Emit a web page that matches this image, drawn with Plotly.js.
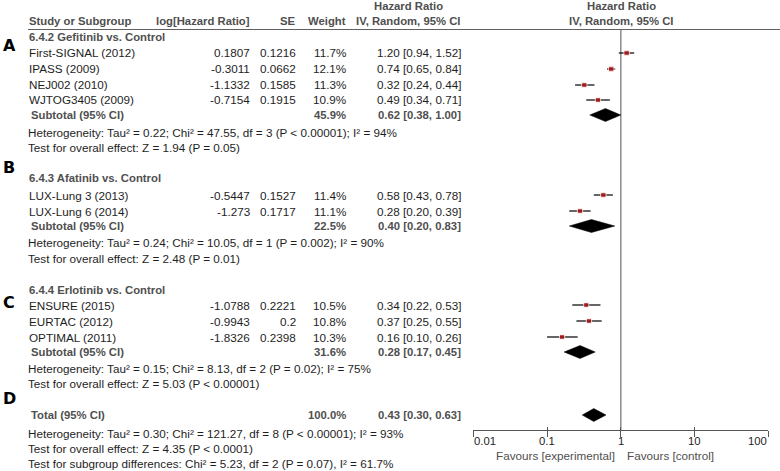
<!DOCTYPE html>
<html>
<head>
<meta charset="utf-8">
<script src="https://cdn.plot.ly/plotly-3.0.1.min.js"></script>
<style>
  body { margin: 0; background: #fff; }
  #forest { width: 780px; height: 471px; }
</style>
</head>
<body>
<div id="forest"></div>
<script>
//Study level data
const studies = ["First-SIGNAL (2012)", "IPASS (2009)", "NEJ002 (2010)", "WJTOG3405 (2009)",
                 "LUX-Lung 3 (2013)", "LUX-Lung 6 (2014)",
                 "ENSURE (2015)", "EURTAC (2012)", "OPTIMAL (2011)"];
const log_hr = [0.1807, -0.3011, -1.1332, -0.7154, -0.5447, -1.273, -1.0788, -0.9943, -1.8326];
const se_arr = [0.1216, 0.0662, 0.1585, 0.1915, 0.1527, 0.1717, 0.2221, 0.2, 0.2398];
const weight_arr = [11.7, 12.1, 11.3, 10.9, 11.4, 11.1, 10.5, 10.8, 10.3];
const hr_arr = [1.20, 0.74, 0.32, 0.49, 0.58, 0.28, 0.34, 0.37, 0.16];
const lo_arr = [0.94, 0.65, 0.24, 0.34, 0.43, 0.20, 0.22, 0.25, 0.10];
const hi_arr = [1.52, 0.84, 0.44, 0.71, 0.78, 0.39, 0.53, 0.55, 0.26];

//Subgroup data
const groups = ["6.4.2 Gefitinib vs. Control", "6.4.3 Afatinib vs. Control", "6.4.4 Erlotinib vs. Control"];
const group_letters = ["A", "B", "C"];
const sub_weight = [45.9, 22.5, 31.6];
const sub_hr = [0.62, 0.40, 0.28];
const sub_lo = [0.38, 0.20, 0.17];
const sub_hi = [1.00, 0.83, 0.45];
const sub_het = ["Heterogeneity: Tau² = 0.22; Chi² = 47.55, df = 3 (P &lt; 0.00001); I² = 94%",
                 "Heterogeneity: Tau² = 0.24; Chi² = 10.05, df = 1 (P = 0.002); I² = 90%",
                 "Heterogeneity: Tau² = 0.15; Chi² = 8.13, df = 2 (P = 0.02); I² = 75%"];
const sub_test = ["Test for overall effect: Z = 1.94 (P = 0.05)",
                  "Test for overall effect: Z = 2.48 (P = 0.01)",
                  "Test for overall effect: Z = 5.03 (P &lt; 0.00001)"];

//Overall data
const total_weight = [100.0];
const total_hr = [0.43];
const total_lo = [0.30];
const total_hi = [0.63];
const total_notes = ["Heterogeneity: Tau² = 0.30; Chi² = 121.27, df = 8 (P &lt; 0.00001); I² = 93%",
                     "Test for overall effect: Z = 4.35 (P &lt; 0.0001)",
                     "Test for subgroup differences: Chi² = 5.23, df = 2 (P = 0.07), I² = 61.7%"];
const tick_vals = [0.01, 0.1, 1, 10, 100];
const tick_text = ["0.01", "0.1", "1", "10", "100"];

/***** Layout (pixel rows) *******/
const W = 780, H = 471;
const study_y = [53, 69, 85, 100, 195, 211, 305, 321, 337];
const head_y = [37, 178, 290];
const sub_y = [115, 226, 352];
const het_y = [133, 242, 368];
const test_y = [148, 258, 383];
const letter_y = [46, 168, 302];
const total_y = 415;
const total_note_y = [433, 448, 463];
const axis_y = 430;

const GREY = "#4f4f4f";
const INK = "#1e1e1e";
const FONT = "Liberation Sans, Arial, sans-serif";
const SZ = 11.7;   //regular text
const SZB = 11.3;  //bold text

var annotations = [];
function txt(text, x, y, anchor, color, size, family){
    annotations.push({
        xref: "paper", yref: "paper",
        x: x / W, y: 1 - y / H,
        text: text, showarrow: false,
        xanchor: anchor || "left", yanchor: "middle",
        borderpad: 0,
        font: {family: family || FONT, size: size || SZ, color: color || INK}
    });
}
function bold(text, x, y, anchor){
    txt("<b>" + text + "</b>", x, y, anchor, GREY, SZB);
}

//Column headers
bold("Study or Subgroup", 28, 21, "left");
bold("log[Hazard Ratio]", 251, 21, "right");
bold("SE", 297, 21, "right");
bold("Weight", 347, 21, "right");
bold("Hazard Ratio", 408, 6, "center");
bold("IV, Random, 95% CI", 408, 21, "center");
bold("Hazard Ratio", 621, 6, "center");
bold("IV, Random, 95% CI", 621, 21, "center");

function ci_text(h, l, u){
    return h.toFixed(2) + " [" + l.toFixed(2) + ", " + u.toFixed(2) + "]";
}

//Study rows
for(var i = 0; i < studies.length; i++){
    let y = study_y[i];
    txt(studies[i], 28, y);
    txt(String(log_hr[i]), 251, y, "right");
    txt(String(se_arr[i]), 297, y, "right");
    txt(weight_arr[i].toFixed(1) + "%", 347, y, "right");
    txt(ci_text(hr_arr[i], lo_arr[i], hi_arr[i]), 462, y, "right");
}

//Subgroup rows
for(var g = 0; g < groups.length; g++){
    txt("<b>" + group_letters[g] + "</b>", 2, letter_y[g], "left", "#000", 16, "DejaVu Sans, Verdana, sans-serif");
    bold(groups[g], 28, head_y[g], "left");
    bold("Subtotal (95% CI)", 30, sub_y[g], "left");
    bold(sub_weight[g].toFixed(1) + "%", 347, sub_y[g], "right");
    bold(ci_text(sub_hr[g], sub_lo[g], sub_hi[g]), 462, sub_y[g], "right");
    txt(sub_het[g], 27, het_y[g]);
    txt(sub_test[g], 27, test_y[g]);
}

//Total rows
txt("<b>D</b>", 2, 398, "left", "#000", 16, "DejaVu Sans, Verdana, sans-serif");
bold("Total (95% CI)", 30, total_y, "left");
bold(total_weight[0].toFixed(1) + "%", 347, total_y, "right");
bold(ci_text(total_hr[0], total_lo[0], total_hi[0]), 462, total_y, "right");
for(var k = 0; k < total_notes.length; k++){
    txt(total_notes[k], 27, total_note_y[k]);
}

//Tick labels and favours text (x in log10 units for a log axis)
for(var t = 0; t < tick_vals.length; t++){
    let anchor = t === 0 ? "left" : (t === tick_vals.length - 1 ? "right" : "center");
    annotations.push({
        xref: "x", yref: "paper", x: Math.log10(tick_vals[t]), y: 1 - 441 / H,
        text: tick_text[t], showarrow: false, xanchor: anchor, yanchor: "middle",
        borderpad: 0, font: {family: FONT, size: 11.3, color: INK}
    });
}
annotations.push({xref: "x", yref: "paper", x: 0, y: 1 - 455 / H, xshift: -5,
    text: "Favours [experimental]", showarrow: false, xanchor: "right", yanchor: "middle",
    borderpad: 0, font: {family: FONT, size: SZ, color: GREY}});
annotations.push({xref: "x", yref: "paper", x: 0, y: 1 - 455 / H, xshift: 5,
    text: "Favours [control]", showarrow: false, xanchor: "left", yanchor: "middle",
    borderpad: 0, font: {family: FONT, size: SZ, color: GREY}});

/***** Traces *******/
var traces = [];

//Study squares with confidence intervals
traces.push({
    x: hr_arr, y: study_y,
    type: "scatter", mode: "markers",
    marker: {symbol: "square", color: "#b00000", size: weight_arr.map(w => 1.6 * Math.sqrt(w))},
    error_x: {
        type: "data", symmetric: false,
        array: hr_arr.map((h, i) => hi_arr[i] - h),
        arrayminus: hr_arr.map((h, i) => h - lo_arr[i]),
        color: "#000", thickness: 1.2, width: 0
    },
    hoverinfo: "skip", showlegend: false
});

//Diamonds for pooled estimates
function diamond(h, l, u, y){
    const half = 6.5;
    traces.push({
        x: [l, h, u, h, l], y: [y, y - half, y, y + half, y],
        type: "scatter", mode: "lines", fill: "toself",
        fillcolor: "#000", line: {color: "#000", width: 0.5},
        hoverinfo: "skip", showlegend: false
    });
}
for(var d = 0; d < sub_hr.length; d++){
    diamond(sub_hr[d], sub_lo[d], sub_hi[d], sub_y[d]);
}
diamond(total_hr[0], total_lo[0], total_hi[0], total_y);

//Invisible trace so the overlaid tick axis gets drawn
traces.push({
    x: total_hr, y: [total_y], xaxis: "x2", yaxis: "y",
    type: "scatter", mode: "markers", marker: {opacity: 0},
    hoverinfo: "skip", showlegend: false
});

const x_dom = [473.3 / W, 768.3 / W];
const layout = {
    width: W, height: H,
    margin: {l: 0, r: 0, t: 0, b: 0},
    paper_bgcolor: "#fff", plot_bgcolor: "rgba(0,0,0,0)",
    showlegend: false,
    xaxis: {
        type: "log", range: [-2, 2], domain: x_dom, anchor: "y",
        showline: true, linecolor: "#555", linewidth: 1,
        ticks: "outside", ticklen: 6, tickcolor: "#555", tickwidth: 1,
        tickvals: tick_vals, showticklabels: false,
        showgrid: false, zeroline: false, fixedrange: true
    },
    xaxis2: {
        type: "log", range: [-2, 2], domain: x_dom, anchor: "y", overlaying: "x",
        showline: false, ticks: "inside", ticklen: 3, tickcolor: "#555", tickwidth: 1,
        tickvals: tick_vals, showticklabels: false,
        showgrid: false, zeroline: false, fixedrange: true
    },
    yaxis: {
        range: [axis_y, 0], domain: [(H - axis_y) / H, 1],
        visible: false, showgrid: false, zeroline: false, fixedrange: true
    },
    shapes: [
        //line of no effect
        {type: "line", xref: "x", yref: "y", x0: 1, x1: 1, y0: 29.5, y1: axis_y,
         line: {color: "#8a8a8a", width: 1.5}, layer: "below"},
        //header rule
        {type: "line", xref: "paper", yref: "y", x0: 28 / W, x1: 1, y0: 29.5, y1: 29.5,
         line: {color: "#606060", width: 1.2}}
    ],
    annotations: annotations
};

Plotly.newPlot("forest", traces, layout, {staticPlot: true});
</script>
</body>
</html>
